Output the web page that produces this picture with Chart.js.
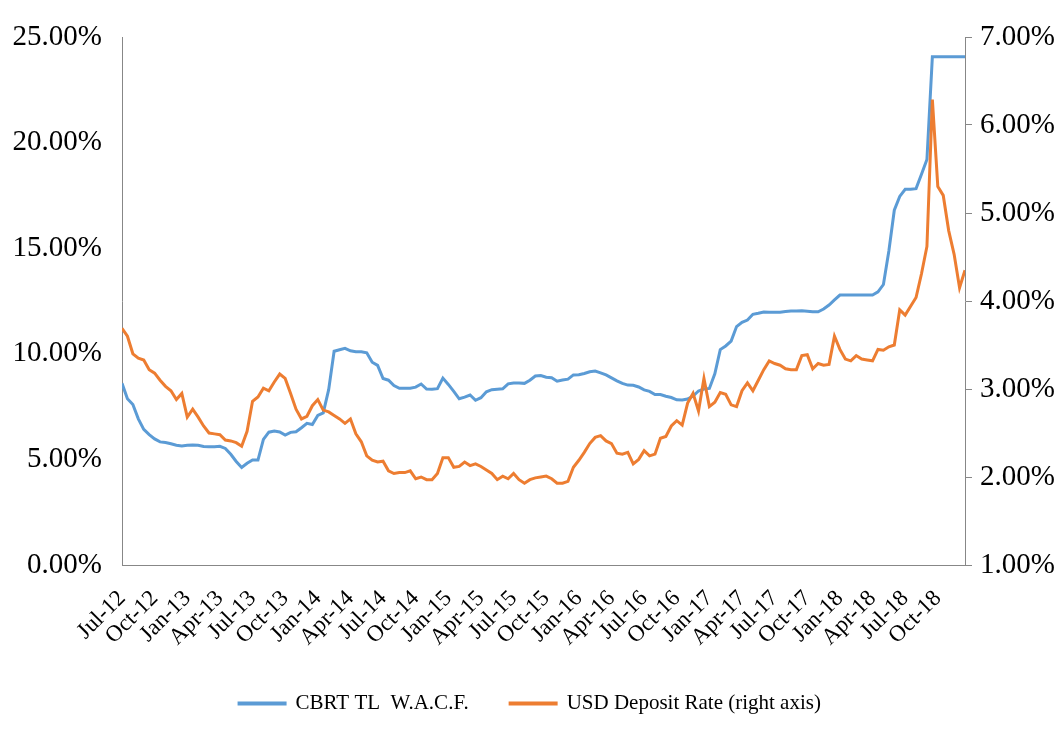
<!DOCTYPE html>
<html lang="en">
<head>
<meta charset="UTF-8">
<title>CBRT TL W.A.C.F. and USD Deposit Rate</title>
<script src="https://cdn.jsdelivr.net/npm/chart.js"></script>
<style>
  html, body { margin: 0; padding: 0; background: #fff; }
  #wrap { width: 1060px; height: 733px; }
</style>
</head>
<body>
<div id="wrap"><canvas id="rateChart" width="1060" height="733"></canvas></div>
<script>
// quarterly axis labels, one every 3 months starting Jul-12
const tickLabels = ['Jul-12', 'Oct-12', 'Jan-13', 'Apr-13', 'Jul-13', 'Oct-13', 'Jan-14', 'Apr-14',
    'Jul-14', 'Oct-14', 'Jan-15', 'Apr-15', 'Jul-15', 'Oct-15', 'Jan-16', 'Apr-16', 'Jul-16',
    'Oct-16', 'Jan-17', 'Apr-17', 'Jul-17', 'Oct-17', 'Jan-18', 'Apr-18', 'Jul-18', 'Oct-18'];

// semi-monthly observations from Jul-12, in %
const cbrtRate = [
    8.60, 7.87, 7.60, 6.92, 6.42, 6.17, 5.97, 5.83, 5.80, 5.74, 5.67, 5.64, 5.67, 5.68, 5.67, 5.61,
    5.60, 5.60, 5.62, 5.52, 5.24, 4.90, 4.62, 4.82, 4.97, 4.97, 5.95, 6.29, 6.34, 6.30, 6.15, 6.28,
    6.31, 6.50, 6.71, 6.65, 7.08, 7.20, 8.30, 10.12, 10.19, 10.26, 10.14, 10.10, 10.10, 10.05, 9.60, 9.45,
    8.83, 8.75, 8.50, 8.37, 8.37, 8.37, 8.42, 8.57, 8.33, 8.32, 8.35, 8.85, 8.55, 8.22, 7.87,
    7.95, 8.05, 7.80, 7.92, 8.20, 8.30, 8.32, 8.34, 8.58, 8.62, 8.62, 8.60, 8.75, 8.95, 8.97, 8.89,
    8.87, 8.70, 8.76, 8.80, 9.00, 9.01, 9.07, 9.15, 9.18, 9.10, 9.00, 8.86, 8.72, 8.60, 8.52,
    8.51, 8.43, 8.29, 8.22, 8.07, 8.07, 7.99, 7.93, 7.82, 7.81, 7.86, 8.00, 8.24, 8.33, 8.36, 9.05,
    10.20, 10.37, 10.60, 11.29, 11.49, 11.60, 11.87, 11.92, 11.98, 11.97, 11.97, 11.97, 12.00, 12.03, 12.03,
    12.04, 12.02, 11.99, 11.99, 12.12, 12.31, 12.55, 12.78, 12.78, 12.78, 12.78, 12.78, 12.78, 12.78, 12.93, 13.28,
    14.87, 16.80, 17.45, 17.79, 17.79, 17.82, 18.50, 19.20, 24.07, 24.07, 24.07, 24.07, 24.07, 24.07, 24.07
];

const usdDeposit = [
    3.69, 3.60, 3.40, 3.35, 3.33, 3.22, 3.18, 3.10, 3.03, 2.98, 2.88, 2.95, 2.68, 2.77, 2.68, 2.58,
    2.50, 2.49, 2.48, 2.42, 2.41, 2.39, 2.35, 2.52, 2.86, 2.91, 3.01, 2.98, 3.08, 3.17, 3.12, 2.95,
    2.77, 2.66, 2.69, 2.81, 2.88, 2.76, 2.74, 2.70, 2.66, 2.61, 2.66, 2.49, 2.40, 2.24, 2.19, 2.17,
    2.18, 2.07, 2.04, 2.05, 2.05, 2.07, 1.98, 2.00, 1.97, 1.97, 2.04, 2.22, 2.22, 2.11, 2.12,
    2.17, 2.13, 2.15, 2.12, 2.08, 2.04, 1.97, 2.01, 1.98, 2.04, 1.97, 1.93, 1.97, 1.99, 2.00, 2.01,
    1.98, 1.93, 1.93, 1.95, 2.11, 2.19, 2.28, 2.38, 2.45, 2.47, 2.41, 2.38, 2.27, 2.26, 2.28,
    2.15, 2.20, 2.30, 2.24, 2.26, 2.44, 2.46, 2.58, 2.64, 2.59, 2.84, 2.95, 2.75, 3.12, 2.80, 2.85,
    2.96, 2.94, 2.82, 2.80, 2.98, 3.07, 2.98, 3.10, 3.22, 3.32, 3.29, 3.27, 3.23, 3.22, 3.22,
    3.38, 3.39, 3.23, 3.29, 3.27, 3.28, 3.60, 3.45, 3.34, 3.32, 3.38, 3.34, 3.33, 3.32, 3.45, 3.44,
    3.48, 3.50, 3.90, 3.84, 3.94, 4.04, 4.31, 4.62, 6.29, 5.30, 5.20, 4.80, 4.53, 4.15, 4.35
];

const seriesNames = ['CBRT TL  W.A.C.F.', 'USD Deposit Rate (right axis)'];

const MONTHS_PER_POINT = 0.5;
const toPoints = arr => arr.map((v, i) => ({ x: i * MONTHS_PER_POINT, y: v }));

const axisGrey = '#878787';
const serif = 'Liberation Serif';

const ctx = document.getElementById('rateChart').getContext('2d');
const chart = new Chart(ctx, {
    type: 'line',
    data: {
        datasets: [{
            // trailing spaces widen the gap before the second legend entry
            label: seriesNames[0] + '      ',
            data: toPoints(cbrtRate),
            yAxisID: 'y',
            borderColor: '#5B9BD5',
            backgroundColor: '#5B9BD5',
            borderWidth: 3,
            pointRadius: 0,
            tension: 0,
            order: 2
        }, {
            label: seriesNames[1],
            data: toPoints(usdDeposit),
            yAxisID: 'y1',
            borderColor: '#ED7D31',
            backgroundColor: '#ED7D31',
            borderWidth: 3,
            pointRadius: 0,
            tension: 0,
            order: 1
        }]
    },
    options: {
        responsive: false,
        animation: false,
        layout: { padding: { top: 37, left: 0, right: 0, bottom: 9 } },
        plugins: {
            tooltip: { enabled: false },
            legend: {
                position: 'bottom',
                labels: {
                    sort: (a, b) => a.datasetIndex - b.datasetIndex,
                    boxWidth: 46,
                    boxHeight: 1,
                    padding: 10,
                    color: '#000',
                    font: { family: serif, size: 21 }
                }
            }
        },
        scales: {
            x: {
                type: 'linear',
                min: 0,
                max: (cbrtRate.length - 1) * MONTHS_PER_POINT,
                grid: { display: false },
                border: { display: true, color: axisGrey, width: 1 },
                ticks: {
                    stepSize: 3,
                    includeBounds: false,
                    autoSkip: false,
                    minRotation: 45,
                    maxRotation: 45,
                    color: '#000',
                    padding: 12,
                    font: { family: serif, size: 23 },
                    callback: v => (v % 3 === 0 ? tickLabels[v / 3] : '')
                },
                afterFit: s => { s.height = 118; }
            },
            y: {
                position: 'left',
                min: 0,
                max: 25,
                grid: { display: false },
                border: { display: true, color: axisGrey, width: 1 },
                ticks: {
                    stepSize: 5,
                    color: '#000',
                    padding: 12,
                    font: { family: serif, size: 29 },
                    callback: v => v.toFixed(2) + '%'
                },
                afterFit: s => { s.width = 122; }
            },
            y1: {
                position: 'right',
                min: 1,
                max: 7,
                grid: { display: true, drawOnChartArea: false, drawTicks: true, tickLength: 7, color: axisGrey },
                border: { display: true, color: axisGrey, width: 1 },
                ticks: {
                    stepSize: 1,
                    color: '#000',
                    padding: 8,
                    font: { family: serif, size: 29 },
                    callback: v => v.toFixed(2) + '%'
                },
                afterFit: s => { s.width = 95; }
            }
        }
    }
});
</script>
</body>
</html>
